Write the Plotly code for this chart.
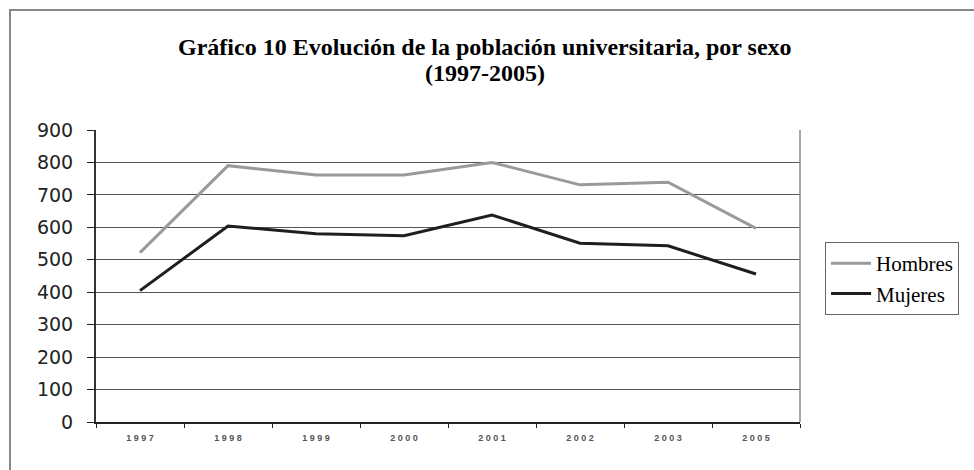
import plotly.graph_objects as go

years = ["1997", "1998", "1999", "2000", "2001", "2002", "2003", "2005"]
hombres = [522, 790, 761, 761, 800, 731, 739, 597]
mujeres = [405, 604, 580, 574, 638, 551, 543, 456]
y_ticks = [0, 100, 200, 300, 400, 500, 600, 700, 800, 900]
title_lines = ["Gráfico 10 Evolución de la población universitaria, por sexo", "(1997-2005)"]

W, H = 974, 470
L, R, T, B = 96, 800, 130, 422
pw, ph = R - L, B - T

def px_x(x):
    return (x - L) / pw

def px_y(y):
    return (B - y) / ph

fig = go.Figure()
fig.add_trace(go.Scatter(x=years, y=hombres, mode="lines", name="Hombres",
                         line=dict(color="#9a9a9a", width=3)))
fig.add_trace(go.Scatter(x=years, y=mujeres, mode="lines", name="Mujeres",
                         line=dict(color="#1e1e1e", width=3)))

fig.update_layout(
    width=W, height=H,
    margin=dict(l=L, r=W - R, t=T, b=H - B),
    paper_bgcolor="white", plot_bgcolor="white",
    showlegend=True,
    legend=dict(x=px_x(825), y=px_y(242), xanchor="left", yanchor="top",
                bordercolor="#666666", borderwidth=1, bgcolor="white",
                font=dict(family="Liberation Serif", size=21, color="black"),
                tracegroupgap=0, itemwidth=40),
)

for txt, yc in zip(title_lines, [47, 73]):
    fig.add_annotation(text="<b>" + txt + "</b>", xref="paper", yref="paper",
                       x=px_x(485), y=px_y(yc), xanchor="center", yanchor="middle",
                       showarrow=False,
                       font=dict(family="Liberation Serif", size=24, color="black"))

fig.update_xaxes(type="category", tickson="boundaries", ticks="outside", ticklen=4,
                 tickcolor="#222", showline=True, linecolor="#222", linewidth=2,
                 showgrid=False, tickvals=years,
                 ticktext=[" ".join(y) for y in years],
                 tickfont=dict(family="Liberation Sans", size=9, color="#555", weight="bold"),
                 ticklabelstandoff=6,
                 range=[-0.5, len(years) - 0.5])
fig.update_yaxes(range=[0, 900], tickvals=y_ticks, ticks="outside", ticklen=7,
                 tickcolor="#222", showline=True, linecolor="#333", linewidth=2,
                 showgrid=True, gridcolor="#555555", gridwidth=1,
                 zeroline=True, zerolinecolor="#222", zerolinewidth=2,
                 ticklabelstandoff=10,
                 tickfont=dict(family="DejaVu Sans", size=19, color="#222"))

# right border of plot area
fig.add_shape(type="line", xref="paper", yref="paper", x0=1, x1=1, y0=0, y1=1,
              line=dict(color="#888888", width=1.5))
# outer chart frame
fig.add_shape(type="rect", xref="paper", yref="paper",
              x0=px_x(10), x1=px_x(990), y0=px_y(10), y1=px_y(490),
              line=dict(color="#888888", width=2), layer="below")

fig.write_html("out.html", config={"displayModeBar": False},
               post_script="document.body.style.margin='0px';")
